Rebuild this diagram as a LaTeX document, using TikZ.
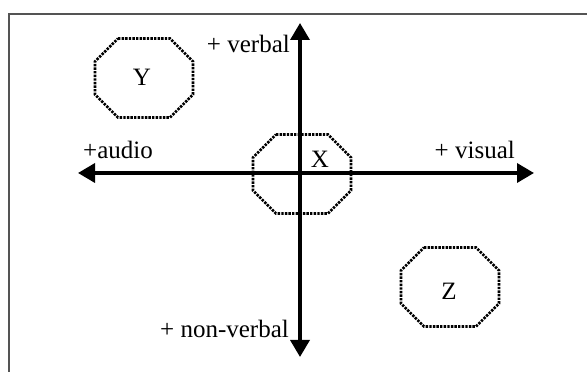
\documentclass[tikz,border=0pt]{standalone}
\usepackage{fontspec}
\setmainfont{Liberation Serif}
\usetikzlibrary{arrows.meta}

\begin{document}
\begin{tikzpicture}[
    x=1pt, y=1pt,
    octline/.style={line width=2.6pt, dash pattern=on 2.4pt off 1.2pt},
    axis/.style={-{Triangle[length=17pt, width=19pt]}, line width=3.5pt},
    lbl/.style={font=\fontsize{25}{30}\selectfont, inner sep=0pt},
]
    \useasboundingbox (0,0) rectangle (587,372);
    % frame
    \draw[line width=2pt, black!67] (9,-10) -- (9,358) -- (600,358);

    % octagon centres
    \coordinate (cY) at (144,294);
    \coordinate (cX) at (302,198);
    \coordinate (cZ) at (450,85);
    \foreach \c in {cY,cX,cZ}
        \draw[octline, shift={(\c)}] (-26,39.5) -- (26,39.5) -- (49,16.5) -- (49,-16.5)
            -- (26,-39.5) -- (-26,-39.5) -- (-49,-16.5) -- (-49,16.5) -- cycle;

    \node[lbl] (Y) at (142,295) {Y};
    \node[lbl] (X) at (320,213) {X};
    \node[lbl] (Z) at (449,81) {Z};

    % axes
    \coordinate (orig) at (300,199);
    \coordinate (top) at (300,349);
    \coordinate (bot) at (300,15);
    \coordinate (lft) at (78,199);
    \coordinate (rgt) at (534,199);
    \draw[axis] (orig) -- (top);
    \draw[axis] (orig) -- (bot);
    \draw[axis] (orig) -- (lft);
    \draw[axis] (orig) -- (rgt);

    \node[lbl, anchor=base east] (verbal) at (290,319) {+ verbal};
    \node[lbl, anchor=base east] (nonverbal) at (289,34) {+ non-verbal};
    \node[lbl, anchor=base west] (audio) at (83,213) {+audio};
    \node[lbl, anchor=base east] (visual) at (515,213) {+ visual};
\end{tikzpicture}
\end{document}
